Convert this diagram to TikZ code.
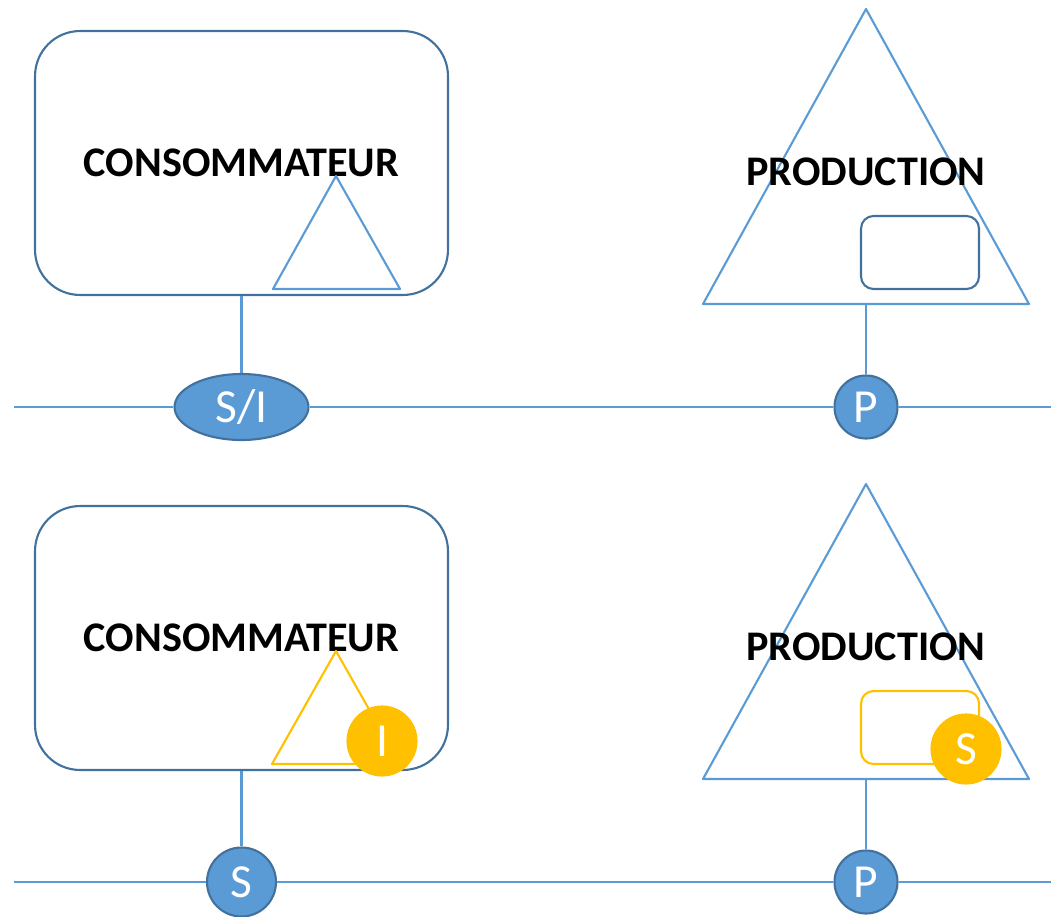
\documentclass[tikz,border=0pt]{standalone}
\usepackage{fontspec}
\setmainfont{Carlito}
\usetikzlibrary{shapes.geometric}
\definecolor{vbzbdv}{rgb}{0.357,0.608,0.835}
\definecolor{urxrzc}{rgb}{0.255,0.443,0.612}
\definecolor{ffcqqq}{rgb}{1.,0.753,0.}
\tikzset{
  trait/.style={line width=1.2pt,color=vbzbdv},
  bloc/.style={draw=urxrzc,line width=1.2pt,rounded corners=0.9cm,minimum width=8.26cm,minimum height=5.28cm,inner sep=0pt,font=\fontsize{24}{28}\selectfont\bfseries},
  titre/.style={inner sep=0pt,font=\fontsize{24}{28}\selectfont\bfseries},
  petitbloc/.style={line width=1.2pt,rounded corners=0.25cm,minimum width=2.36cm,minimum height=1.46cm,inner sep=0pt},
  prise/.style={circle,draw=urxrzc,fill=vbzbdv,line width=1.2pt,text=white,inner sep=0pt,minimum size=1.26cm,font=\fontsize{27}{30}\selectfont},
  marque/.style={circle,draw=ffcqqq,fill=ffcqqq,line width=1.2pt,text=white,inner sep=0pt,minimum size=1.38cm,font=\fontsize{27}{30}\selectfont}
}
\begin{document}
\begin{tikzpicture}[line join=round,x=0.02cm,y=-0.02cm]
\useasboundingbox (0,0) rectangle (1051,916);
% situation 1
\node[bloc] (cons1) at (241.5,163) {CONSOMMATEUR};
\draw[trait] (336,176) -- (273,289) -- (400,289) -- cycle;
\draw[trait] (866,9) -- (703,304) -- (1029,304) -- cycle;
\coordinate (prod1) at (866,304);
\node[titre] (lab1) at (866,171.5) {PRODUCTION};
\node[petitbloc,draw=urxrzc] (stock1) at (920,252.5) {};
\node[prise,ellipse,minimum width=2.68cm,minimum height=1.32cm] (si1) at (241.5,407) {S/I};
\node[prise] (p1) at (866,407) {P};
\coordinate (gauche1) at (14,407);
\coordinate (droite1) at (1051,407);
\draw[trait] (gauche1) -- (si1) -- (p1) -- (droite1);
\draw[trait] (cons1) -- (si1);
\draw[trait] (prod1) -- (p1);

% situation 2
\node[bloc] (cons2) at (241.5,638) {CONSOMMATEUR};
\draw[trait,color=ffcqqq] (336,651) -- (272,764) -- (400,764) -- cycle;
\node[marque] (i2) at (382,741) {I};
\draw[trait] (866,484) -- (703,779) -- (1029,779) -- cycle;
\coordinate (prod2) at (866,779);
\node[titre] (lab2) at (866,646.5) {PRODUCTION};
\node[petitbloc,draw=ffcqqq] (stock2) at (920,727.5) {};
\node[marque] (s2) at (966,749) {S};
\node[prise,minimum size=1.38cm] (si2) at (241.5,882) {S};
\node[prise] (p2) at (866,882) {P};
\coordinate (gauche2) at (14,882);
\coordinate (droite2) at (1051,882);
\draw[trait] (gauche2) -- (si2) -- (p2) -- (droite2);
\draw[trait] (cons2) -- (si2);
\draw[trait] (prod2) -- (p2);
\end{tikzpicture}
\end{document}
